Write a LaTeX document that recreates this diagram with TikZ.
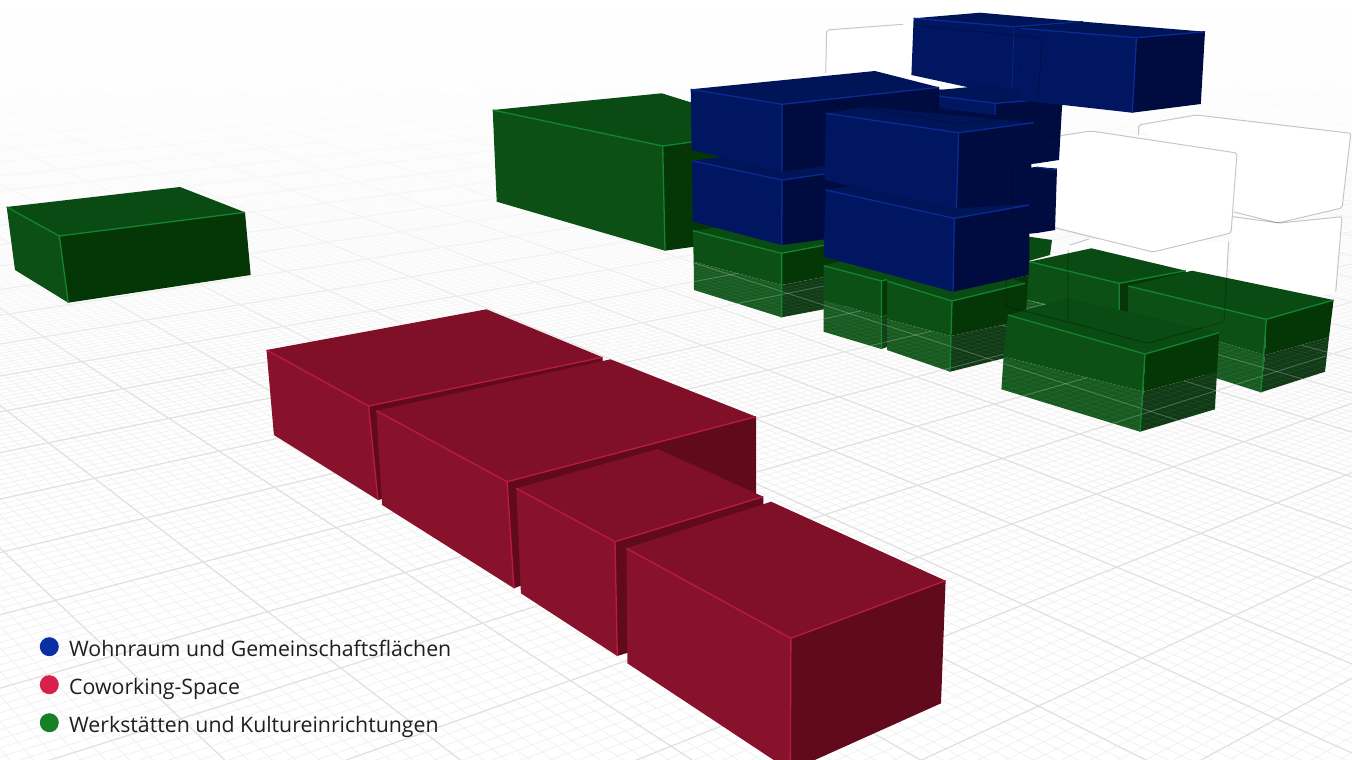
\documentclass[tikz,border=0pt]{standalone}
\usepackage{fontspec}
\setmainfont{Open Sans}
\definecolor{gminor}{HTML}{F2F2F2}
\definecolor{gmajor}{HTML}{E1E1E1}
\definecolor{rtop}{HTML}{7F1028}\definecolor{rleft}{HTML}{88122B}\definecolor{rright}{HTML}{610A1B}\definecolor{redge}{HTML}{BB1A45}
\definecolor{btop}{HTML}{001458}\definecolor{bleft}{HTML}{001660}\definecolor{bright}{HTML}{000C40}\definecolor{bedge}{HTML}{0A2A96}
\definecolor{gtop}{HTML}{0A4A13}\definecolor{gleft}{HTML}{0C5015}\definecolor{gright}{HTML}{053706}\definecolor{gedge}{HTML}{128530}
\definecolor{gleftlow}{HTML}{175A20}\definecolor{grightlow}{HTML}{103A16}
\tikzset{
 minorln/.style={gminor,line width=.8pt},
 majorln/.style={gmajor,line width=1.2pt},
 ovminor/.style={white,opacity=.05,line width=.7pt},
 ovmajor/.style={white,opacity=.2,line width=1pt},
 ghostfill/.style={fill=white},
 ghostln/.style={black,opacity=.22,line width=1pt,rounded corners=2pt,line join=round},
 legtext/.style={anchor=base west,text=black!88,font=\fontsize{21.3}{24}\selectfont,inner sep=0pt},
 legdot/.style={circle,minimum size=19pt,inner sep=0pt}
}
% ground homography
\newcommand{\hpt}[3]{%
 \pgfmathsetmacro\hw{1+0.04898*(#1)-0.05397*(#2)}%
 \pgfmathsetmacro\hx{(138.27*(#1)+44.67*(#2)+1011.7)/\hw}%
 \pgfmathsetmacro\hy{(-5.79*(#1)+12.53*(#2)+524)/\hw}%
 \coordinate (#3) at (\hx,\hy);}
% #1 style, #2 i-from*10, #3 i-to*10, #4 j-from*10, #5 j-to*10, #6 step
\newcommand{\gridlines}[6]{%
 \pgfmathtruncatemacro\nxa{#2+#6}%
 \foreach \k in {#2,\nxa,...,#3}{%
  \hpt{\k/10}{#4/10}{ga}\hpt{\k/10}{#5/10}{gb}\draw[#1] (ga)--(gb);}%
 \pgfmathtruncatemacro\nxb{#4+#6}%
 \foreach \k in {#4,\nxb,...,#5}{%
  \hpt{#2/10}{\k/10}{ga}\hpt{#3/10}{\k/10}{gb}\draw[#1] (ga)--(gb);}%
}
% plain box: prefix, TL,TB,TR,TF,BL,BF,BR
\newcommand{\solidbox}[8]{%
 \fill[#1top] #2--#3--#4--#5--cycle;
 \fill[#1left] #2--#5--#7--#6--cycle;
 \fill[#1right] #5--#4--#8--#7--cycle;
 \draw[#1edge,line width=1.3pt] #2--#5--#4 #5--#7;}
% green box, lower part glassy: TL,TB,TR,TF,BL,BF,BR,ML,MF,MR
\newcommand{\glassbox}[7]{\def\gTL{#1}\def\gTB{#2}\def\gTR{#3}\def\gTF{#4}\def\gBL{#5}\def\gBF{#6}\def\gBR{#7}\glassrest}
\newcommand{\glassrest}[3]{%
 \fill[gtop] \gTL--\gTB--\gTR--\gTF--cycle;
 \fill[gleft] \gTL--\gTF--#2--#1--cycle;
 \fill[gright] \gTF--\gTR--#3--#2--cycle;
 \fill[gleftlow] #1--#2--\gBF--\gBL--cycle;
 \fill[grightlow] #2--#3--\gBR--\gBF--cycle;
 \begin{scope}
  \clip #1--#2--#3--\gBR--\gBF--\gBL--cycle;
  \gridlines{ovminor}{0}{100}{-80}{0}{1}
  \gridlines{ovmajor}{0}{100}{-80}{0}{10}
 \end{scope}
 \draw[gedge,line width=1.3pt] \gTL--\gTF--\gTR \gTF--\gBF;}
\begin{document}
\begin{tikzpicture}[x=1pt,y=-1pt]
\useasboundingbox (0,0) rectangle (1352,760);
\clip (0,0) rectangle (1352,760);
\fill[white] (0,0) rectangle (1352,760);
% ground
\gridlines{minorln}{-80}{420}{-400}{40}{1}
\gridlines{majorln}{-80}{420}{-400}{40}{10}
% distance fade
\foreach \s in {0,4,...,396}{%
 \pgfmathsetmacro\op{1-pow(\s/400,1.7)}%
 \fill[white,opacity=\op] (0,\s) rectangle (1352,\s+4);}
% far left green box
\solidbox{g}{(6.7,207)}{(180,187)}{(245,212.3)}{(59.3,236)}{(15,270)}{(68.3,302.7)}{(250.7,275)}
% big green box
\solidbox{g}{(492.7,110)}{(661.7,93.3)}{(780,130)}{(662.7,146)}{(496.7,201.7)}{(665,250.7)}{(780,235)}
% red boxes
\solidbox{r}{(266.5,350)}{(486.5,309.3)}{(602.6,357.3)}{(368.5,406)}{(273.9,435)}{(378,500)}{(602.6,450)}
\solidbox{r}{(376.3,410.7)}{(610.4,359.3)}{(756,416.7)}{(507.1,481.7)}{(382.2,505)}{(514,588.3)}{(756,495)}
\solidbox{r}{(516.3,488.3)}{(657.7,449)}{(763.3,496.7)}{(615,541.7)}{(520.9,593.3)}{(617.3,656)}{(763.3,610)}
\solidbox{r}{(626.5,548.3)}{(771.1,501.7)}{(945.6,580.7)}{(790.9,638.3)}{(627.4,663.3)}{(790.3,771)}{(941,703.3)}
% ghost volumes
\fill[ghostfill] (826.6,30)--(910,23)--(1042,38)--(1038,113)--(958,124)--(825.7,101)--cycle;
\fill[ghostfill] (1138.6,125)--(1196.4,115)--(1350.8,133.3)--(1342,208)--(1278,223)--(1233,215)--cycle;
\fill[ghostfill] (1232.9,216.7)--(1280,223)--(1342,216.7)--(1335.7,291.7)--(1270,310)--(1228,300)--cycle;
\fill[ghostfill] (1013,143)--(1091,131)--(1238,153)--(1231,233)--(1153,252)--(1012,217)--cycle;
\fill[ghostfill] (1070,245)--(1089,239)--(1228.6,241.7)--(1224,321.7)--(1147,343.3)--(1067.9,321.7)--cycle;
% lower green row
\glassbox{(692.9,230.7)}{(760,222)}{(890,232.7)}{(781.6,253.3)}{(694,290)}{(781.6,317.3)}{(890,296.7)}{(693.7,261.7)}{(781.6,285)}{(890,264.4)}
\fill[gtop] (1025,240)--(1029,236.7)--(1052,240)--(1050,255)--(1025,262)--cycle;
\fill[gright] (1005.7,280)--(1029,275)--(1029,311)--(1005.7,306)--cycle;
\fill[gtop] (860,255)--(960,255)--(930,285)--(880,285)--cycle;
\glassbox{(887,281)}{(960,262)}{(1025,283.3)}{(952,301)}{(887,350)}{(950,371.7)}{(1025,353)}{(887,319.3)}{(951,336)}{(1025,320)}
\glassbox{(823.6,265.7)}{(860,257)}{(887,279.6)}{(881.4,281)}{(823.6,331.7)}{(881.4,349)}{(887,347)}{(823.6,300)}{(881.4,316.7)}{(887,315)}
% blue stack
\solidbox{b}{(913.6,18.3)}{(980,12.7)}{(1083,21.7)}{(1014.3,26.7)}{(911.4,75)}{(1012,96.7)}{(1083,90)}
\fill[bleft] (1014.3,26.7)--(1020.7,28.3)--(1018.6,100)--(1012,96.7)--cycle;
\fill[bright] (875,85)--(1062,98)--(1062,107)--(1000,135)--(900,150)--cycle;
\solidbox{b}{(911.4,92.7)}{(990,85)}{(1062,98)}{(995,103.3)}{(911.4,105)}{(995,115)}{(1062,107)}
\fill[bright] (995,115)--(1062,107)--(1059,160)--(1036,163.5)--(960,170)--cycle;
\fill[bright] (1036,167)--(1057,168.5)--(1055,230)--(1037,233)--(960,240)--(960,175)--cycle;
\draw[bedge,line width=1pt] (1036,167)--(1057,170);
\solidbox{b}{(1020.7,28.3)}{(1083,21.7)}{(1205,31.7)}{(1136.5,37.7)}{(1018.6,100)}{(1132.2,112.7)}{(1200.8,104)}
\solidbox{b}{(692,160.7)}{(780,150)}{(880,166)}{(782,180)}{(692.7,221.7)}{(781.7,245)}{(880,232)}
\solidbox{b}{(690.7,89.3)}{(875,71)}{(939,87.3)}{(782,104.3)}{(691.6,150)}{(782,171.7)}{(939,150)}
\solidbox{b}{(825.7,190)}{(900,178)}{(1029.3,205)}{(954.3,218.3)}{(823.6,256.7)}{(953,291.7)}{(1029.3,275)}
\solidbox{b}{(825.7,113.3)}{(864,106.7)}{(1033.6,122.7)}{(958.6,132.7)}{(824.9,180)}{(956.4,208.3)}{(1029.3,204)}
% front green boxes
\glassbox{(1029.3,261.7)}{(1091.4,248.3)}{(1185.7,270.7)}{(1119.3,283.3)}{(1026,312)}{(1119.3,330)}{(1185,320)}{(1027,300)}{(1119.3,320)}{(1185,310)}
\glassbox{(1127.9,286)}{(1192,270.7)}{(1333.6,300)}{(1266.3,319.3)}{(1127.9,350)}{(1260.8,392.3)}{(1325,371.7)}{(1127.9,315)}{(1265,355)}{(1329,337.3)}
\glassbox{(1007.9,315)}{(1067.9,298.3)}{(1219.1,332.7)}{(1145,354)}{(1001.4,389.3)}{(1140,431.7)}{(1214.9,409.3)}{(1003.6,356.7)}{(1143.5,391.7)}{(1217,371.7)}
% ghost outlines
\draw[ghostln] (825.7,73)--(826.6,30)--(903,24.3);
\draw[ghostln] (913,25)--(1042,38)--(1038,100);
\draw[ghostln] (825.7,101)--(958,124)--(1038,113);
\draw[ghostln] (1013,143)--(1091,131)--(1237,153)--(1231,233)--(1153,252)--(1012,217)--cycle;
\draw[ghostln] (1138.6,135)--(1138.6,125)--(1196.4,115)--(1350.8,133.3)--(1342,208)--(1278,223)--(1234,212);
\draw[ghostln] (1232.9,216.7)--(1280,223)--(1342,216.7)--(1335.7,291.7);
\draw[ghostln] (1070,245)--(1089,239) (1068,250)--(1067.9,321.7)--(1147,343.3)--(1224,321.7)--(1228.6,241.7);
\draw[ghostln] (1006,228)--(1006,306.5)--(1067.9,322);
% legend
\node[legdot,fill={rgb,255:red,10;green,47;blue,165}] (d1) at (49.3,646.7) {};
\node[legdot,fill={rgb,255:red,216;green,32;blue,76}] (d2) at (49.3,684.7) {};
\node[legdot,fill={rgb,255:red,22;green,128;blue,39}] (d3) at (49.3,722.7) {};
\node[legtext] (t1) at (69,656.7) {Wohnraum und Gemeinschaftsflächen};
\node[legtext] (t2) at (69,694) {Coworking-Space};
\node[legtext] (t3) at (69,732) {Werkstätten und Kultureinrichtungen};
\end{tikzpicture}
\end{document}
